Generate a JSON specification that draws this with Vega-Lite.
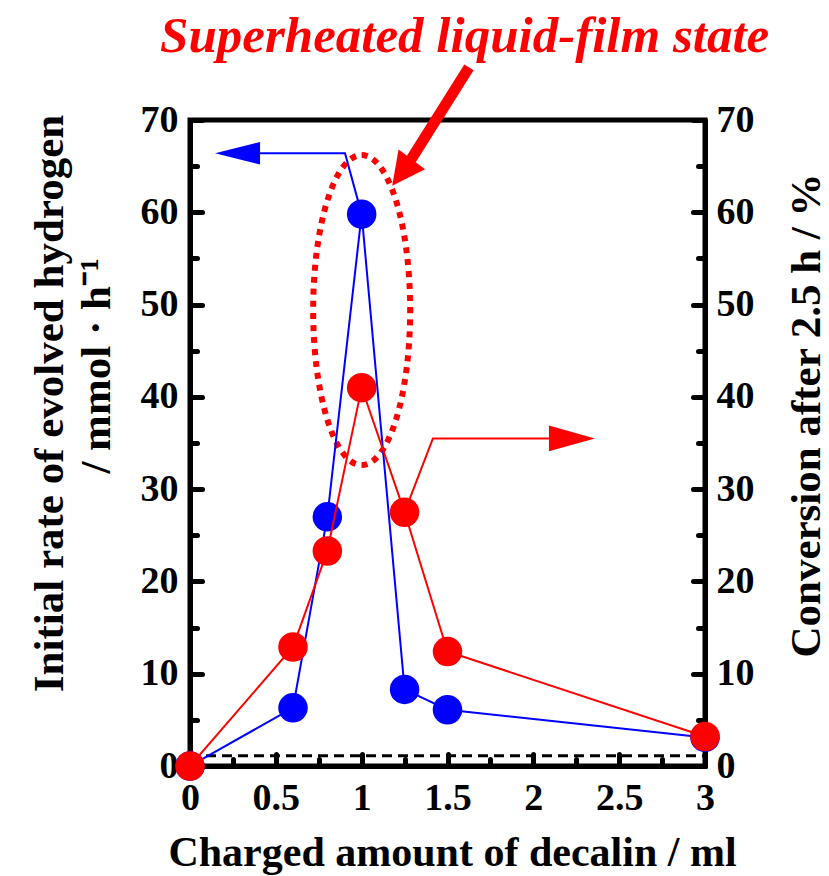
{
  "$schema": "https://vega.github.io/schema/vega-lite/v6.json",
  "width": 515,
  "height": 646,
  "autosize": {"type": "none"},
  "padding": {"left": 190, "top": 120, "right": 124, "bottom": 110},
  "background": "white",
  "config": {"view": {"stroke": "black", "strokeWidth": 5}, "font": "Liberation Serif"},
  "datasets": {
    "rate": [
      {"x": 0, "y": 0}, {"x": 0.6, "y": 6.3}, {"x": 0.8, "y": 27}, {"x": 1, "y": 59.8},
      {"x": 1.25, "y": 8.3}, {"x": 1.5, "y": 6.1}, {"x": 3, "y": 3.1}
    ],
    "conv": [
      {"x": 0, "y": 0}, {"x": 0.6, "y": 12.9}, {"x": 0.8, "y": 23.3}, {"x": 1, "y": 41},
      {"x": 1.25, "y": 27.5}, {"x": 1.5, "y": 12.4}, {"x": 3, "y": 3.2}
    ],
    "blueArrow": [
      {"x": 1, "y": 59.8, "o": 0}, {"x": 0.903, "y": 66.4, "o": 1}, {"x": 0.408, "y": 66.4, "o": 2}
    ],
    "blueHead": [{"x": 0.277, "y": 66.4}],
    "redArrow": [
      {"x": 1.25, "y": 27.5, "o": 0}, {"x": 1.415, "y": 35.5, "o": 1}, {"x": 2.091, "y": 35.5, "o": 2}
    ],
    "redHead": [{"x": 2.225, "y": 35.5}],
    "baseline": [{"x": 0, "y": 1.1}, {"x": 3, "y": 1.1}],
    "ellipse": [{"x": 1.0, "y": 49.4}],
    "shaft": [{"x": 1.625, "y": 75.7, "x2": 1.287, "y2": 65.7}],
    "bigHead": [{"x": 1.235, "y": 64.3}],
    "label": [{"x": 1.6, "y": 77.4, "text": "Superheated liquid-film state"}]
  },
  "encoding": {
    "x": {
      "field": "x",
      "type": "quantitative",
      "scale": {"domain": [0, 3], "nice": false, "zero": false},
      "axis": {
        "values": [0, 0.25, 0.5, 0.75, 1, 1.25, 1.5, 1.75, 2, 2.25, 2.5, 2.75, 3],
        "labelExpr": "datum.value % 0.5 === 0 ? '' + datum.value : ''",
        "tickSize": {"condition": {"test": "datum.value % 0.5 === 0", "value": -12}, "value": -7},
        "tickWidth": 5, "tickColor": "black", "tickCap": "round",
        "domainColor": "black", "domainWidth": 5, "grid": false,
        "labelFont": "Liberation Serif", "labelFontSize": 38, "labelFontWeight": "bold", "labelColor": "black",
        "labelPadding": 25, "labelFlush": false, "labelOverlap": false,
        "title": "Charged amount of decalin / ml",
        "titleFont": "Liberation Serif", "titleFontSize": 42, "titleFontWeight": "bold", "titleColor": "black",
        "titleBaseline": "alphabetic", "titleAlign": "center", "titleX": 262, "titleY": 99
      }
    }
  },
  "layer": [
    {
      "encoding": {
        "y": {
          "field": "y",
          "type": "quantitative",
          "scale": {"domain": [0, 70], "nice": false},
          "axis": {
            "orient": "left",
            "values": [0, 5, 10, 15, 20, 25, 30, 35, 40, 45, 50, 55, 60, 65, 70],
            "labelExpr": "datum.value % 10 === 0 ? datum.label : ''",
            "tickSize": {"condition": {"test": "datum.value % 10 === 0", "value": -12}, "value": -7},
            "tickWidth": 5, "tickColor": "black", "tickCap": "round",
            "domainColor": "black", "domainWidth": 5, "grid": false,
            "labelFont": "Liberation Serif", "labelFontSize": 38, "labelFontWeight": "bold", "labelColor": "black",
            "labelPadding": 24, "labelFlush": false, "labelOverlap": false,
            "title": ["Initial rate of evolved hydrogen", "\u200b\u00a0\u00a0\u00a0\u00a0\u00a0\u00a0\u00a0/ mmol · h⁻¹"],
            "titleFont": "Liberation Serif", "titleFontSize": 43, "titleFontWeight": "bold", "titleColor": "black",
            "titleAngle": -90, "titleBaseline": "alphabetic", "titleAlign": "center",
            "titleLineHeight": 47, "titleX": -128, "titleY": 283
          }
        }
      },
      "layer": [
        {
          "data": {"name": "baseline"},
          "mark": {"type": "line", "color": "black", "strokeWidth": 3, "strokeDash": [10, 6]}
        },
        {
          "data": {"name": "ellipse"},
          "mark": {
            "type": "point",
            "shape": "M 0,-1 C 0.1729,-1 0.313,-0.5523 0.313,0 C 0.313,0.5523 0.1729,1 0,1 C -0.1729,1 -0.313,0.5523 -0.313,0 C -0.313,-0.5523 -0.1729,-1 0,-1 Z",
            "size": 96100, "filled": false, "stroke": "#ff0000", "strokeWidth": 6, "strokeDash": [6, 6], "opacity": 1
          }
        },
        {
          "data": {"name": "blueArrow"},
          "mark": {"type": "line", "color": "#0000ff", "strokeWidth": 2},
          "encoding": {"order": {"field": "o", "type": "quantitative"}}
        },
        {
          "data": {"name": "blueHead"},
          "mark": {"type": "point", "shape": "M -1,0 L 1,-0.5 L 1,0.5 Z", "size": 2025, "filled": true, "fill": "#0000ff", "strokeWidth": 0, "opacity": 1}
        },
        {
          "data": {"name": "rate"},
          "mark": {"type": "line", "color": "#0000ff", "strokeWidth": 2}
        },
        {
          "data": {"name": "rate"},
          "mark": {"type": "circle", "size": 870, "color": "#0000ff", "opacity": 1}
        },
        {
          "data": {"name": "shaft"},
          "mark": {"type": "rule", "color": "#ff0000", "strokeWidth": 11},
          "encoding": {"x2": {"field": "x2"}, "y2": {"field": "y2"}}
        },
        {
          "data": {"name": "bigHead"},
          "mark": {"type": "point", "shape": "M 0,-1 L 1,1 L -1,1 Z", "size": 1089, "angle": 216.5, "filled": true, "fill": "#ff0000", "strokeWidth": 0, "opacity": 1}
        },
        {
          "data": {"name": "label"},
          "mark": {"type": "text", "font": "Liberation Serif", "fontSize": 51, "fontWeight": "bold", "fontStyle": "italic", "color": "#ff0000", "align": "center", "baseline": "alphabetic"},
          "encoding": {"text": {"field": "text"}}
        }
      ]
    },
    {
      "encoding": {
        "y": {
          "field": "y",
          "type": "quantitative",
          "scale": {"domain": [0, 70], "nice": false},
          "axis": {
            "orient": "right",
            "values": [0, 5, 10, 15, 20, 25, 30, 35, 40, 45, 50, 55, 60, 65, 70],
            "labelExpr": "datum.value % 10 === 0 ? datum.label : ''",
            "tickSize": {"condition": {"test": "datum.value % 10 === 0", "value": -12}, "value": -7},
            "tickWidth": 5, "tickColor": "black", "tickCap": "round",
            "domainColor": "black", "domainWidth": 5, "grid": false,
            "labelFont": "Liberation Serif", "labelFontSize": 38, "labelFontWeight": "bold", "labelColor": "black",
            "labelPadding": 23, "labelFlush": false, "labelOverlap": false,
            "title": "Conversion after 2.5 h / %",
            "titleFont": "Liberation Serif", "titleFontSize": 43, "titleFontWeight": "bold", "titleColor": "black",
            "titleAngle": -90, "titleBaseline": "alphabetic", "titleAlign": "center",
            "titleX": 114, "titleY": 295
          }
        }
      },
      "layer": [
        {
          "data": {"name": "redArrow"},
          "mark": {"type": "line", "color": "#ff0000", "strokeWidth": 2},
          "encoding": {"order": {"field": "o", "type": "quantitative"}}
        },
        {
          "data": {"name": "redHead"},
          "mark": {"type": "point", "shape": "M 1,0 L -1,-0.56 L -1,0.56 Z", "size": 2116, "filled": true, "fill": "#ff0000", "strokeWidth": 0, "opacity": 1}
        },
        {
          "data": {"name": "conv"},
          "mark": {"type": "line", "color": "#ff0000", "strokeWidth": 2}
        },
        {
          "data": {"name": "conv"},
          "mark": {"type": "circle", "size": 870, "color": "#ff0000", "opacity": 1}
        }
      ]
    }
  ],
  "resolve": {"scale": {"y": "independent"}}
}
